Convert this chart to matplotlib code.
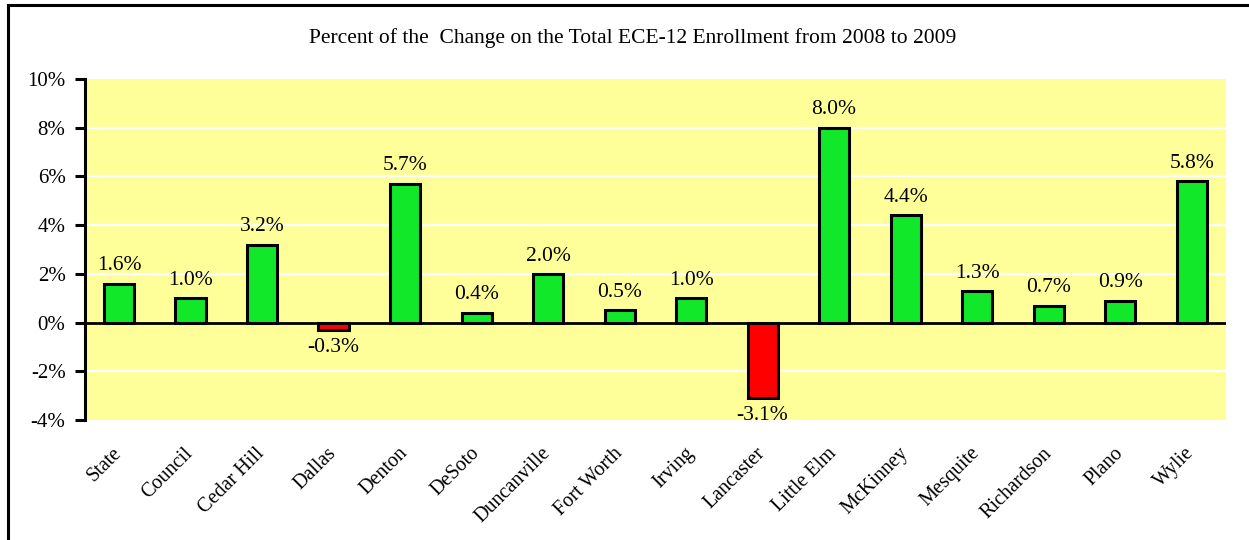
import matplotlib
matplotlib.use("Agg")
import matplotlib.pyplot as plt
from matplotlib.patches import Rectangle
from matplotlib.ticker import FuncFormatter

categories = ["State", "Council", "Cedar Hill", "Dallas", "Denton", "DeSoto",
              "Duncanville", "Fort Worth", "Irving", "Lancaster", "Little Elm",
              "McKinney", "Mesquite", "Richardson", "Plano", "Wylie"]
values = [1.6, 1.0, 3.2, -0.3, 5.7, 0.4, 2.0, 0.5, 1.0, -3.1, 8.0, 4.4, 1.3, 0.7, 0.9, 5.8]
title = "Percent of the  Change on the Total ECE-12 Enrollment from 2008 to 2009"
yticks = [-4, -2, 0, 2, 4, 6, 8, 10]

plt.rcParams['font.family'] = ['Liberation Serif', 'DejaVu Serif']

W, H = 1249, 540
fig = plt.figure(figsize=(W / 100, H / 100), dpi=100)
fig.patch.set_facecolor("white")

# outer border
fig.add_artist(Rectangle((8 / W, -0.05), 1.2, (1 - 5 / H) + 0.05, transform=fig.transFigure,
                         fill=False, edgecolor="black", linewidth=2.2, clip_on=False))

ax = fig.add_axes([85 / W, 1 - 420 / H, (1226 - 85) / W, (420 - 79) / H])
ax.set_facecolor("#FFFF99")

x = list(range(len(categories)))
colors = ["#FF0000" if v < 0 else "#11E829" for v in values]
ax.bar(x, values, width=0.42, color=colors, edgecolor="black", linewidth=2.2, zorder=3)

ax.set_xlim(-0.475, len(categories) - 0.52)
ax.set_ylim(-4, 10)
ax.set_yticks(yticks)
ax.yaxis.set_major_formatter(FuncFormatter(lambda v, p: f"{v:.0f}%"))
for g in [-2, 2, 4, 6, 8]:
    ax.axhline(g, color="white", linewidth=1.6, zorder=1)
ax.axhline(0, color="black", linewidth=2.0, zorder=4)

for s in ["top", "right", "bottom"]:
    ax.spines[s].set_visible(False)
ax.spines["left"].set_linewidth(2.2)
ax.tick_params(axis="y", length=7, width=2.2, direction="out", labelsize=15, pad=7)
ax.tick_params(axis="x", length=0, pad=22)

ax.set_xticks(x)
ax.set_xticklabels(categories, rotation=45, ha="right", va="center",
                   rotation_mode="anchor", fontsize=14.5)

for xi, v in zip(x, values):
    if v >= 0:
        ax.annotate(f"{v:.1f}%", (xi, v), xytext=(0, 6), textcoords="offset points",
                    ha="center", va="bottom", fontsize=15.5, zorder=5)
    else:
        ax.annotate(f"{v:.1f}%", (xi, v), xytext=(0, -6), textcoords="offset points",
                    ha="center", va="top", fontsize=15.5, zorder=5)

fig.text(633 / W, 1 - 38 / H, title, ha="center", va="center", fontsize=15.5)

fig.savefig("out.png", dpi=100)
